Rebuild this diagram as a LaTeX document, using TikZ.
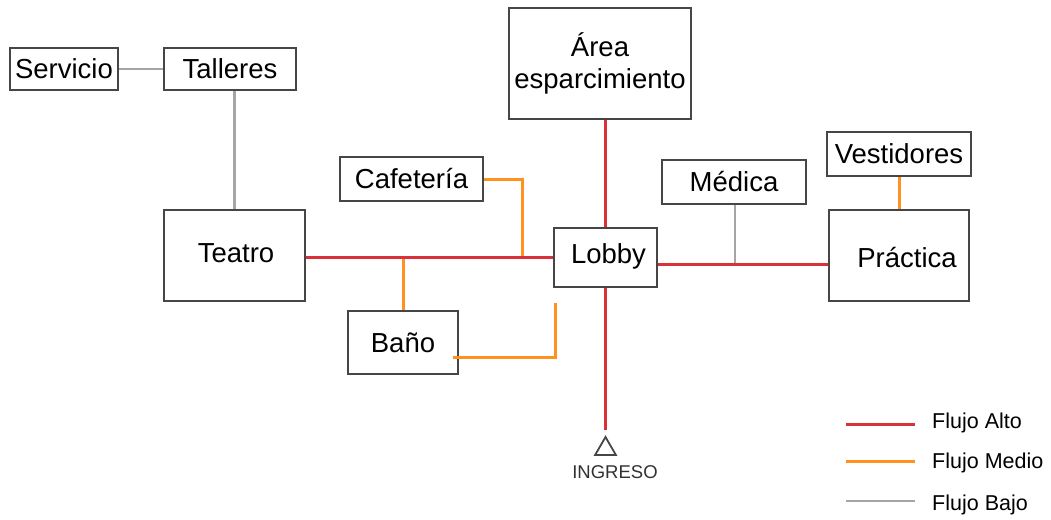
\documentclass[tikz,border=0pt]{standalone}
\usepackage{fontspec}
\setmainfont{Liberation Sans}
\usetikzlibrary{shapes.geometric,calc}
\definecolor{flred}{RGB}{217,48,58}
\definecolor{florange}{RGB}{255,145,30}
\definecolor{flgray}{RGB}{165,165,165}
\definecolor{border}{RGB}{70,70,70}
\begin{document}
\begin{tikzpicture}[x=1pt,y=-1pt,
  box/.style={draw=border,line width=1.5pt,inner sep=0pt,font=\fontsize{27.5}{32}\selectfont,align=center},
  alto/.style={draw=flred,line width=3pt},
  medio/.style={draw=florange,line width=3pt},
  bajo/.style={draw=flgray,line width=2.6pt},
  legtext/.style={anchor=west,inner sep=0pt,font=\fontsize{21.5}{24}\selectfont},
]
\useasboundingbox (0,0) rectangle (1051,519);
% boxes
\node[box,minimum width=108pt,minimum height=42pt] (serv) at (64,69) {Servicio};
\node[box,minimum width=132pt,minimum height=42pt] (tall) at (230,69) {Talleres};
\node[box,minimum width=182pt,minimum height=111pt] (area) at (600,63.5) {Área\\esparcimiento};
\node[box,minimum width=143pt,minimum height=44pt] (cafe) at (411.5,179) {Cafetería};
\node[box,minimum width=144pt,minimum height=44pt] (medica) at (734,182) {Médica};
\node[box,minimum width=144pt,minimum height=44pt] (vest) at (899,154) {Vestidores};
\node[box,minimum width=141pt,minimum height=91pt,label={[inner sep=0pt,xshift=1.5pt,yshift=2pt,font=\fontsize{27.5}{32}\selectfont]center:Teatro}] (teatro) at (234.5,255.5) {};
\node[box,minimum width=103pt,minimum height=59pt,label={[inner sep=0pt,xshift=3pt,yshift=1pt,font=\fontsize{27.5}{32}\selectfont]center:Lobby}] (lobby) at (605.5,257.5) {};
\node[box,minimum width=140pt,minimum height=91pt,label={[inner sep=0pt,xshift=8pt,yshift=-2pt,font=\fontsize{27.5}{32}\selectfont]center:Práctica}] (practica) at (899,255.5) {};
\node[box,minimum width=110pt,minimum height=63pt] (bano) at (403,342.5) {Baño};
% entrance
\coordinate (ingEnd) at (605.5,430);
\node[draw=border,line width=1.8pt,regular polygon,regular polygon sides=3,minimum size=24pt,inner sep=0pt] (tri) at (605.5,449) {};
\node[inner sep=0pt,font=\fontsize{18.5}{20}\selectfont,text=border!70!black] (ingreso) at (615,472) {INGRESO};
% junction coordinates
\coordinate (cafeJ) at (522,257.5);
\coordinate (b1) at (453,357);
\coordinate (b2) at (555,303);
\coordinate (mj) at (735,264);
% low flow
\draw[bajo] (serv.east) -- (tall.west);
\draw[bajo] (teatro.north) -- (teatro.north |- tall.south);
\draw[bajo] (mj) -- (mj |- medica.south);
% medium flow
\draw[medio] (cafe.east) -| (cafeJ);
\draw[medio] (bano.north) -- (bano.north |- lobby.west);
\draw[medio] (b1) -| (b2);
\draw[medio] (vest.south) -- (practica.north);
% high flow
\draw[alto] (lobby.west) -- (lobby.west -| teatro.east);
\draw[alto] (lobby.north) -- (lobby.north |- area.south);
\draw[alto] (lobby.south) -- (ingEnd);
\draw[alto] ([yshift=-6.5pt]lobby.east) -- ([yshift=-6.5pt]lobby.east -| practica.west);
% legend
\coordinate (la1) at (846,424); \coordinate (la2) at (915,424);
\coordinate (lm1) at (846,461); \coordinate (lm2) at (915,461);
\coordinate (lb1) at (846,501); \coordinate (lb2) at (915,501);
\draw[alto] (la1) -- (la2);
\draw[medio] (lm1) -- (lm2);
\draw[bajo] (lb1) -- (lb2);
\node[legtext] (lta) at (932,423) {Flujo Alto};
\node[legtext] (ltm) at (932,463) {Flujo Medio};
\node[legtext] (ltb) at (932,505) {Flujo Bajo};
\end{tikzpicture}
\end{document}
